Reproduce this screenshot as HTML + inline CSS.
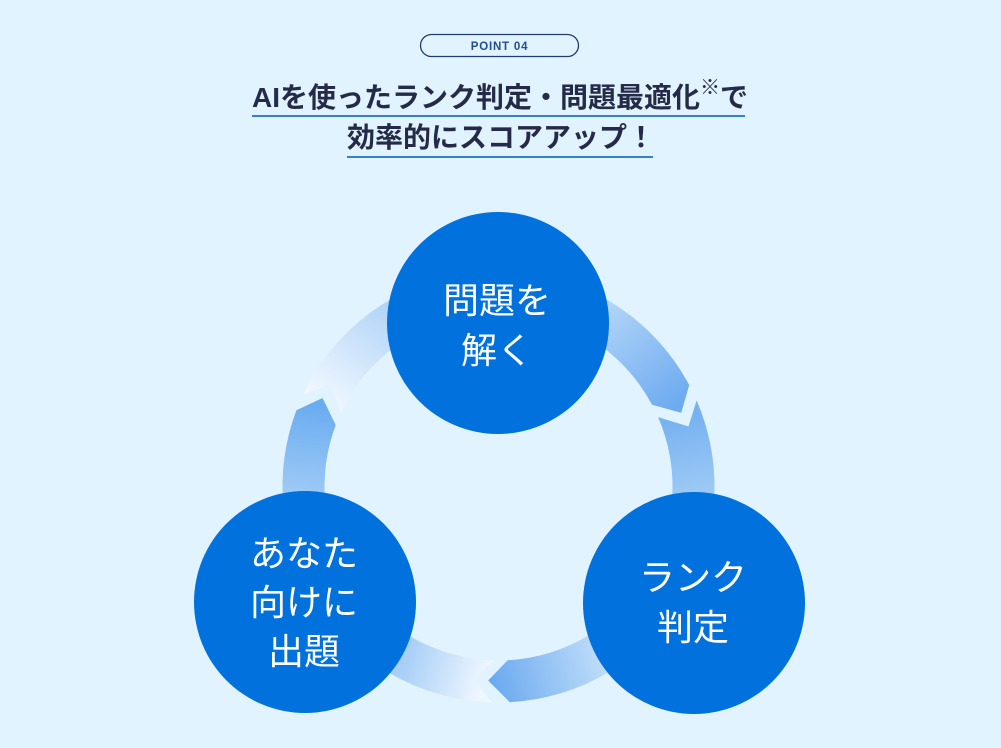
<!DOCTYPE html>
<html>
<head>
<meta charset="utf-8">
<style>
  html,body{margin:0;padding:0;background:#e0f3fe;}
  body{width:1001px;height:748px;overflow:hidden;}
  svg{display:block;}
  .t{font-family:"Liberation Sans","Noto Sans CJK JP",sans-serif;}
</style>
</head>
<body>
<svg width="1001" height="748" viewBox="0 0 1001 748" xmlns="http://www.w3.org/2000/svg">
  <defs>
    <linearGradient id="g1a" gradientUnits="userSpaceOnUse" x1="318" y1="402" x2="392" y2="300">
      <stop offset="0" stop-color="#f2f8ff"/>
      <stop offset="1" stop-color="#aed2f7"/>
    </linearGradient>
    <linearGradient id="g1b" gradientUnits="userSpaceOnUse" x1="600" y1="295" x2="683" y2="402">
      <stop offset="0" stop-color="#b8d9f8"/>
      <stop offset="1" stop-color="#6caaf0"/>
    </linearGradient>
    <linearGradient id="g2a" gradientUnits="userSpaceOnUse" x1="685" y1="420" x2="700" y2="495">
      <stop offset="0" stop-color="#78b3f0"/>
      <stop offset="1" stop-color="#9ecaf5"/>
    </linearGradient>
    <linearGradient id="g2b" gradientUnits="userSpaceOnUse" x1="600" y1="655" x2="492" y2="685">
      <stop offset="0" stop-color="#bddcf9"/>
      <stop offset="1" stop-color="#6ba9ef"/>
    </linearGradient>
    <linearGradient id="g3a" gradientUnits="userSpaceOnUse" x1="482" y1="685" x2="405" y2="662">
      <stop offset="0" stop-color="#eef6ff"/>
      <stop offset="1" stop-color="#a8cff6"/>
    </linearGradient>
    <linearGradient id="g3b" gradientUnits="userSpaceOnUse" x1="305" y1="495" x2="318" y2="405">
      <stop offset="0" stop-color="#9ecaf5"/>
      <stop offset="1" stop-color="#6aacf0"/>
    </linearGradient>
  </defs>

  <rect x="0" y="0" width="1001" height="748" fill="#e0f3fe"/>

  <!-- POINT pill -->
  <rect x="420.5" y="34.5" width="158" height="22" rx="11" ry="11" fill="none" stroke="#1f3c70" stroke-width="1.3"/>
  <text class="t" x="499.5" y="50" text-anchor="middle" font-size="11.5" font-weight="700" letter-spacing="0.8" fill="#1f4e96">POINT 04</text>

  <!-- Title -->
  <text class="t" x="252" y="107" font-size="28" font-weight="700" fill="#252a48">AIを使ったランク判定・問題最適化<tspan font-size="20" y="94">※</tspan><tspan y="107">で</tspan></text>
  <rect x="252" y="115" width="493" height="2" fill="#3580c6"/>
  <text class="t" x="347" y="147" font-size="28" font-weight="700" fill="#252a48">効率的にスコアアップ！</text>
  <rect x="347" y="156" width="306" height="2" fill="#3580c6"/>

  <!-- Ring pieces -->
  <path d="M303.1,394.5 L330.0,384.5 L341.1,412.4 A174,174 0 0 1 498.5,312.5 L498.5,270.5 A216,216 0 0 0 303.1,394.5 Z" fill="url(#g1a)"/>
  <path d="M498.5,270.5 A216,216 0 0 1 689.2,385.1 L681.2,412.7 L652.1,404.8 A174,174 0 0 0 498.5,312.5 Z" fill="url(#g1b)"/>
  <path d="M696.6,400.4 L688.5,426.5 L658.1,417.1 A174,174 0 0 1 647.6,576.1 L683.6,597.8 A216,216 0 0 0 696.6,400.4 Z" fill="url(#g2a)"/>
  <path d="M683.6,597.8 A216,216 0 0 1 509.8,702.2 L488.2,680.5 L507.6,660.3 A174,174 0 0 0 647.6,576.1 Z" fill="url(#g2b)"/>
  <path d="M492.8,702.4 L473.0,680.0 L493.9,660.4 A174,174 0 0 1 349.4,576.1 L313.4,597.8 A216,216 0 0 0 492.8,702.4 Z" fill="url(#g3a)"/>
  <path d="M313.4,597.8 A216,216 0 0 1 296.4,410.2 L322.5,398.0 L335.7,425.0 A174,174 0 0 0 349.4,576.1 Z" fill="url(#g3b)"/>

  <!-- Circles -->
  <circle cx="498" cy="323" r="111" fill="#0071dd"/>
  <circle cx="305" cy="602" r="111" fill="#0071dd"/>
  <circle cx="694" cy="603" r="111" fill="#0071dd"/>

  <!-- Circle labels -->
  <g class="t" font-size="36" fill="#ffffff" text-anchor="middle">
    <text x="497" y="313">問題を</text>
    <text x="497" y="363">解く</text>

    <text x="304" y="566">あなた</text>
    <text x="304" y="615">向けに</text>
    <text x="304" y="664">出題</text>

    <text x="693" y="590">ランク</text>
    <text x="693" y="640">判定</text>
  </g>
</svg>
</body>
</html>
